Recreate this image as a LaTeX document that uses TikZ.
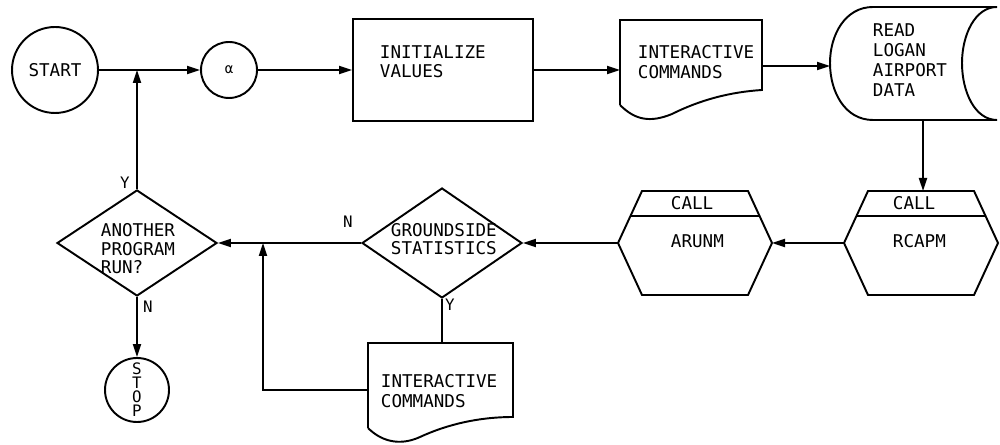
\documentclass[tikz,border=0pt]{standalone}
\usepackage{fontspec}
\setmainfont{DejaVu Sans Mono}
\usetikzlibrary{arrows.meta,shapes.geometric}

\tikzset{
    flow/.style={-{Triangle[length=2.6mm,width=1.6mm]}},
    term/.style={circle,draw,inner sep=0pt},
    decision/.style={diamond,draw,inner sep=0pt,minimum width=3.2cm,minimum height=2.2cm},
    lbl/.style={font=\fontsize{10}{11}\selectfont,align=left,anchor=west,inner sep=0pt},
    yn/.style={font=\fontsize{9}{10}\selectfont,inner sep=0pt}
}

\begin{document}
\begin{tikzpicture}[x=0.02cm,y=-0.02cm,line width=1.1pt]
            \useasboundingbox (0,0) rectangle (1000,445);

            % top row
            \node[term,minimum size=1.72cm,font=\fontsize{10}{11}\selectfont] (start) at (55,70) {START};
            \node[term,minimum size=1.12cm,font=\fontsize{8}{8}\selectfont] (alpha) at (229,70) {α};

            \node[draw,minimum width=3.6cm,minimum height=2.04cm] (ini) at (443,70) {};
            \node[lbl] at (379,62) {INITIALIZE\\VALUES};

            \begin{scope}
                \coordinate (cmd-w) at (620,70);
                \coordinate (cmd-e) at (762,66);
                \draw (620,105) -- (620,20) -- (762,20) -- (762,90)
                    .. controls (730,92) and (700,100) .. (672,114)
                    .. controls (650,123) and (635,120) .. (620,105);
                \node[lbl] at (637,62) {INTERACTIVE\\COMMANDS};
            \end{scope}

            \begin{scope}
                \coordinate (rd-w) at (830,66);
                \coordinate (rd-s) at (923,120);
                \draw (873,7) -- (997,7)
                    .. controls (975,7) and (962,35) .. (962,63)
                    .. controls (962,92) and (975,120) .. (997,120)
                    -- (873,120)
                    .. controls (845,120) and (830,92) .. (830,63)
                    .. controls (830,35) and (845,7) .. (873,7) -- cycle;
                \node[lbl,font=\fontsize{10}{11.4}\selectfont] at (872,60) {READ\\LOGAN\\AIRPORT\\DATA};
            \end{scope}

            % call boxes
            \begin{scope}[shift={(921,243)}]
                \draw (-77,0) -- (-53,-52) -- (53,-52) -- (77,0) -- (53,52) -- (-53,52) -- cycle;
                \draw (-64.5,-27) -- (64.5,-27);
                \coordinate (rc-w) at (-77,0);
                \coordinate (rc-n) at (2,-52);
                \node[lbl] at (-29,-40) {CALL};
                \node[lbl] at (-29,-2) {RCAPM};
            \end{scope}

            \begin{scope}[shift={(695,243)}]
                \draw (-77,0) -- (-53,-52) -- (53,-52) -- (77,0) -- (53,52) -- (-53,52) -- cycle;
                \draw (-64.5,-27) -- (64.5,-27);
                \coordinate (ar-w) at (-77,0);
                \coordinate (ar-e) at (77,0);
                \node[lbl] at (-25,-40) {CALL};
                \node[lbl] at (-25,-2) {ARUNM};
            \end{scope}

            % decisions
            \node[decision] (gs) at (442,243) {};
            \node[lbl,font=\fontsize{10}{9.8}\selectfont] at (390,239) {GROUNDSIDE\\STATISTICS};

            \node[decision,minimum height=2.12cm] (run) at (137,243) {};
            \node[lbl,font=\fontsize{10}{10.5}\selectfont] at (100,249) {ANOTHER\\PROGRAM\\RUN?};

            \node[term,minimum size=1.28cm,align=center,font=\fontsize{9}{8}\selectfont] (stop) at (137,390) {S\\T\\O\\P};

            \begin{scope}
                \coordinate (cmd2-n) at (442,343);
                \coordinate (cmd2-w) at (368,390);
                \draw (368,428) -- (368,343) -- (513,343) -- (513,417)
                    .. controls (480,417) and (448,424) .. (420,437)
                    .. controls (398,447) and (380,440) .. (368,428);
                \node[lbl] at (380,391) {INTERACTIVE\\COMMANDS};
            \end{scope}

            \coordinate (j2) at (263,243);

            % connectors
            \draw[flow] (start) -- (alpha);
            \draw[flow] (alpha) -- (ini);
            \draw[flow] (ini) -- (cmd-w);
            \draw[flow] (cmd-e) -- (rd-w);
            \draw[flow] (rd-s) -- (rc-n);
            \draw[flow] (rc-w) -- (ar-e);
            \draw[flow] (ar-w) -- (gs.east);
            \draw[flow] (gs.west) -- (run.east);
            \draw[flow] (run.north) -- (run.north |- start.east);
            \draw[flow] (run.south) -- (stop);
            \draw (gs.south) -- (cmd2-n);
            \draw[flow] (cmd2-w) -| (j2);

            \node[yn] at (125,183) {Y};
            \node[yn] at (148,307) {N};
            \node[yn] at (348,222) {N};
            \node[yn] at (450,305) {Y};
        \end{tikzpicture}
\end{document}
